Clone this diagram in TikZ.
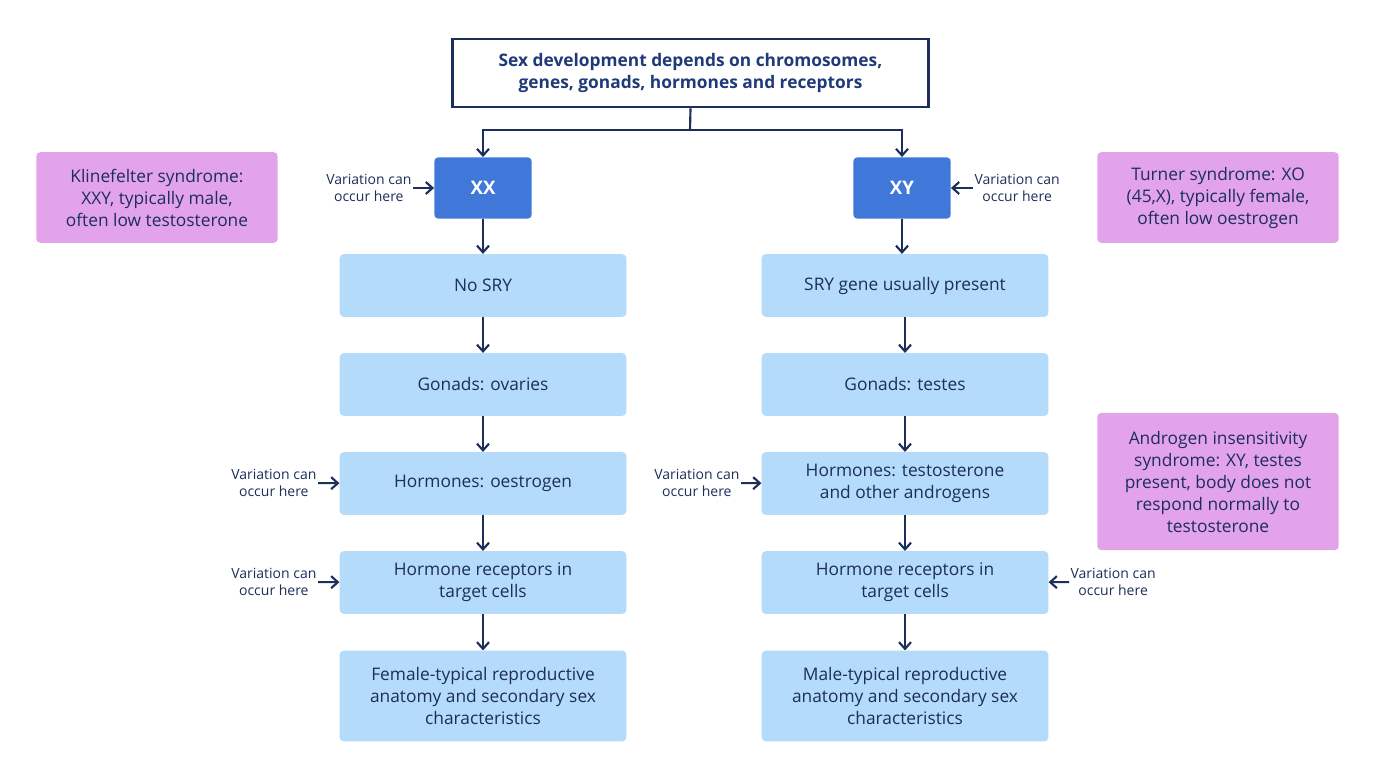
\documentclass[tikz,border=0pt]{standalone}
\usepackage{fontspec}
\setmainfont{Open Sans}
\usetikzlibrary{arrows.meta}
\definecolor{navy}{HTML}{1C2E5A}
\definecolor{tnavy}{HTML}{1F3A78}
\definecolor{chrom}{HTML}{3F78D8}
\definecolor{lblue}{HTML}{B5DBFA}
\definecolor{pink}{HTML}{E3A3EA}
\begin{document}
\begin{tikzpicture}[x=0.75pt,y=-0.75pt,
  box/.style={draw=none,fill=lblue,rounded corners=3pt,minimum width=215pt,align=center,font=\fontsize{13}{16.5}\selectfont,text=navy},
  chr/.style={fill=chrom,rounded corners=3pt,minimum width=73pt,minimum height=46pt,font=\fontsize{14}{16}\selectfont\bfseries,text=white},
  note/.style={fill=pink,rounded corners=3pt,minimum width=181pt,align=center,font=\fontsize{13}{16.5}\selectfont,text=navy},
  var/.style={align=center,font=\fontsize{10.5}{13}\selectfont,text=navy,inner sep=1pt},
  arr/.style={-{Straight Barb[length=5pt,width=9pt]},line width=1.6pt,draw=navy}]
\useasboundingbox (0,0) rectangle (1376,768);
\node[draw=navy,line width=2pt,fill=white,minimum width=357pt,minimum height=51pt,align=center,font=\fontsize{13}{16.5}\selectfont\bfseries,text=tnavy] (title) at (690.5,73) {Sex development depends on chromosomes,\\genes, gonads, hormones and receptors};
\node[chr] (xx) at (483,188) {XX};
\node[chr] (xy) at (902,188) {XY};
\node[box,minimum height=47pt] (l1) at (483,285.5) {No SRY};
\node[box,minimum height=47pt] (l2) at (483,384.5) {Gonads: ovaries};
\node[box,minimum height=47pt] (l3) at (483,483.5) {Hormones: oestrogen};
\node[box,minimum height=47pt] (l4) at (483,582.5) {Hormone receptors in\\target cells};
\node[box,minimum height=68pt] (l5) at (483,696) {Female-typical reproductive\\anatomy and secondary sex\\characteristics};
\node[box,minimum height=47pt] (r1) at (905,285.5) {SRY gene usually present};
\node[box,minimum height=47pt] (r2) at (905,384.5) {Gonads: testes};
\node[box,minimum height=47pt] (r3) at (905,483.5) {Hormones: testosterone\\and other androgens};
\node[box,minimum height=47pt] (r4) at (905,582.5) {Hormone receptors in\\target cells};
\node[box,minimum height=68pt] (r5) at (905,696) {Male-typical reproductive\\anatomy and secondary sex\\characteristics};
\node[note,minimum height=68pt] (kl) at (157,197.5) {Klinefelter syndrome:\\XXY, typically male,\\often low testosterone};
\node[note,minimum height=68pt] (tu) at (1218,197.5) {Turner syndrome: XO\\(45,X), typically female,\\often low oestrogen};
\node[note,minimum height=103pt] (ai) at (1218,481.5) {Androgen insensitivity\\syndrome: XY, testes\\present, body does not\\respond normally to\\testosterone};
% tree
\coordinate (tj) at (690,130);
\draw[line width=1.6pt,navy] (title.south) -- (tj);
\draw[arr] (tj) -| (xx.north);
\draw[arr] (tj) -| (xy.north);
\draw[arr] (xx) -- (l1); \draw[arr] (l1) -- (l2); \draw[arr] (l2) -- (l3); \draw[arr] (l3) -- (l4); \draw[arr] (l4) -- (l5);
\draw[arr] (xy) -- (xy|-r1.north); \draw[arr] (r1) -- (r2); \draw[arr] (r2) -- (r3); \draw[arr] (r3) -- (r4); \draw[arr] (r4) -- (r5);
% variation labels
\node[var,anchor=east] (v1) at (413,188) {Variation can\\occur here};
\draw[arr] (v1) -- (xx);
\node[var,anchor=west] (v2) at (973,188) {Variation can\\occur here};
\draw[arr] (v2) -- (xy);
\node[var,anchor=east] (v3) at (318,483) {Variation can\\occur here};
\draw[arr] (v3) -- (l3);
\node[var,anchor=east] (v4) at (318,582) {Variation can\\occur here};
\draw[arr] (v4) -- (l4);
\node[var,anchor=east] (v5) at (741,483) {Variation can\\occur here};
\draw[arr] (v5) -- (r3);
\node[var,anchor=west] (v6) at (1069,582) {Variation can\\occur here};
\draw[arr] (v6) -- (r4);
\end{tikzpicture}
\end{document}
